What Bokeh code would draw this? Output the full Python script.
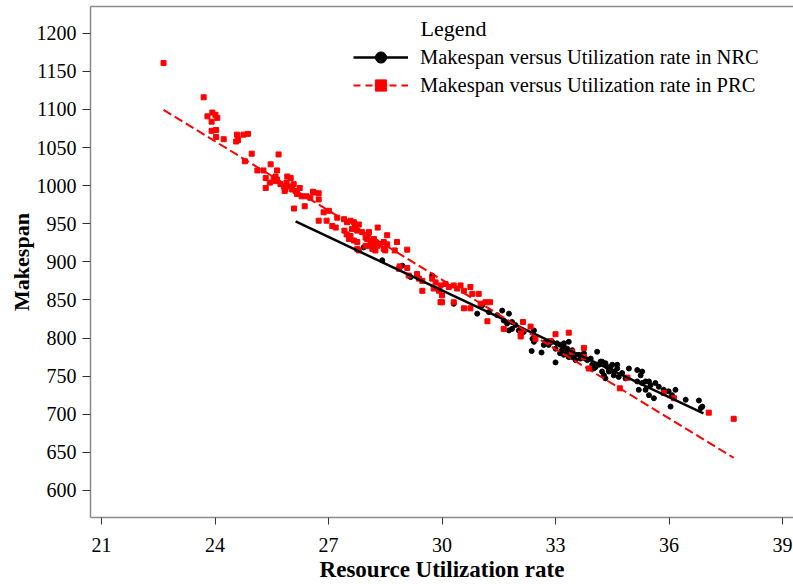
from bokeh.plotting import figure
from bokeh.models import Range1d, LinearAxis, Legend, LegendItem, Label, FixedTicker
from bokeh.embed import file_html
from bokeh.resources import INLINE

# ---------------- data ----------------
x_ticks = [21, 24, 27, 30, 33, 36, 39]
y_ticks = [600, 650, 700, 750, 800, 850, 900, 950, 1000, 1050, 1100, 1150, 1200]

prc_x = [22.64, 23.70, 23.93, 23.80, 24.01, 24.06, 23.91, 23.91, 24.03, 24.03,
         24.23, 24.58, 24.61, 24.56, 24.75, 24.87, 24.97, 24.79, 25.68, 25.47,
         25.12, 25.28, 25.64, 25.34, 25.45, 25.34, 25.55, 25.60, 25.64, 25.91,
         26.00, 25.89, 25.82, 25.95, 26.08, 26.04, 25.84, 26.13, 26.24, 26.17,
         26.29, 26.42, 26.52, 26.59, 26.74, 26.74, 26.09, 26.37, 26.87, 27.23,
         25.60, 25.73, 25.86, 26.61, 27.01, 26.74, 26.95, 27.10, 27.19, 27.41,
         27.49, 27.58, 27.67, 27.71, 27.80, 27.62, 27.76, 27.42, 27.48, 27.58,
         27.54, 27.67, 27.76, 27.89, 27.98, 28.07, 28.30, 28.02, 28.11, 28.20,
         28.16, 28.24, 28.29, 28.07, 27.98, 28.16, 28.24, 28.37, 28.46, 28.55,
         28.55, 28.46, 28.50, 27.76, 27.80, 28.81, 29.08, 28.75, 28.88, 28.86,
         29.08, 29.12, 29.34, 29.39, 29.48, 29.48, 29.74, 29.83, 29.78, 29.92,
         29.96, 29.96, 30.09, 30.18, 30.31, 30.40, 30.49, 30.58, 30.75, 30.80,
         30.97, 31.02, 31.15, 31.27, 30.00, 30.00, 30.31, 30.58, 30.75, 31.20,
         31.63, 32.14, 32.34, 32.08, 32.08, 32.47, 33.00, 33.35, 32.87, 33.44,
         33.75, 33.75, 33.88, 34.70, 34.90, 35.86, 36.13, 37.05, 37.71]
prc_y = [1161, 1116, 1096, 1091, 1093, 1089, 1084, 1072, 1073, 1064,
         1061, 1067, 1060, 1058, 1067, 1068, 1042, 1032, 1041, 1028,
         1020, 1020, 1020, 1010, 1004, 997, 1010, 1012, 1008, 1012,
         1010, 1004, 999, 999, 1002, 995, 993, 993, 997, 989,
         986, 986, 984, 992, 990, 982, 970, 973, 965, 958,
         1006, 1002, 995, 991, 967, 954, 954, 947, 945, 956,
         952, 954, 952, 947, 949, 943, 941, 941, 936, 934,
         930, 928, 926, 939, 932, 939, 945, 930, 928, 930,
         923, 926, 921, 921, 921, 917, 915, 923, 926, 923,
         935, 917, 915, 917, 915, 926, 916, 915, 894, 891,
         892, 882, 884, 878, 875, 862, 878, 873, 865, 862,
         847, 869, 871, 867, 869, 865, 869, 862, 867, 858,
         858, 845, 847, 847, 856, 847, 847, 839, 839, 822,
         812, 821, 815, 806, 802, 799, 805, 807, 796, 782,
         787, 775, 760, 734, 748, 728, 721, 702, 694]

nrc_x = [27.93, 28.42, 28.95, 29.17, 29.74, 30.31, 30.93, 31.06, 31.24, 31.46,
         31.59, 31.77, 31.63, 31.72, 31.85, 31.94, 31.77, 31.85, 32.03, 32.16,
         32.43, 32.39, 32.43, 32.37, 32.63, 32.69, 32.74, 32.82, 32.91, 33.00,
         33.04, 33.13, 33.17, 33.22, 33.31, 33.35, 33.12, 33.00, 33.44, 33.53,
         33.62, 33.66, 33.75, 33.84, 33.93, 34.10, 33.97, 34.01, 34.15, 34.23,
         34.32, 34.37, 34.41, 34.50, 34.54, 34.28, 34.32, 34.63, 34.67, 33.22,
         33.35, 33.31, 33.22, 33.44, 33.53, 33.79, 34.06, 34.19, 34.45, 34.63,
         34.41, 34.23, 34.54, 34.76, 34.94, 34.85, 35.16, 35.29, 35.25, 35.16,
         35.29, 35.38, 35.47, 35.51, 35.64, 35.73, 35.38, 35.20, 35.47, 35.60,
         35.86, 35.99, 36.17, 36.08, 36.04, 36.44, 36.79, 36.88, 36.84]
nrc_y = [919, 902, 895, 880, 882, 845, 832, 843, 834, 830,
         836, 832, 823, 819, 821, 817, 810, 812, 810, 808,
         810, 799, 795, 783, 781, 791, 795, 791, 795, 786,
         793, 791, 784, 789, 782, 775, 780, 768, 775, 771,
         778, 773, 780, 771, 773, 782, 765, 760, 765, 769,
         767, 762, 758, 765, 756, 751, 747, 760, 749, 793,
         795, 786, 778, 784, 778, 773, 762, 769, 762, 765,
         756, 756, 751, 754, 760, 747, 758, 756, 751, 743,
         741, 743, 743, 738, 741, 736, 732, 732, 725, 721,
         732, 730, 732, 725, 710, 719, 718, 710, 708]

nrc_fit_x = [26.13, 36.91]
nrc_fit_y = [953, 701]
prc_fit_x = [22.64, 37.71]
prc_fit_y = [1099.5, 642.7]

labels = ["Makespan versus Utilization rate in NRC",
          "Makespan versus Utilization rate in PRC"]

# ---------------- figure ----------------
FONT = "Liberation Serif"
AXIS_GREY = "#8a8a8a"
NAN = float("nan")

p = figure(width=793, height=584,
           x_range=Range1d(20.709, 39.29), y_range=Range1d(564.4, 1235.2),
           output_backend="svg", toolbar_location=None,
           min_border_left=90, min_border_right=0, min_border_top=6,
           min_border_bottom=64)
p.outline_line_color = None
p.xgrid.visible = False
p.ygrid.visible = False
p.background_fill_color = "white"
p.border_fill_color = "white"

p.xaxis.ticker = FixedTicker(ticks=x_ticks)
p.yaxis.ticker = FixedTicker(ticks=y_ticks)
for ax in (p.xaxis[0], p.yaxis[0]):
    ax.axis_line_color = AXIS_GREY
    ax.axis_line_width = 1.5
    ax.major_tick_line_color = "#333333"
    ax.major_tick_line_width = 1
    ax.major_tick_in = 0
    ax.minor_tick_line_color = None
    ax.major_label_text_font = FONT
    ax.major_label_text_font_size = "20px"
    ax.major_label_text_color = "black"
    ax.axis_label_text_font = FONT
    ax.axis_label_text_font_style = "bold"
    ax.axis_label_text_color = "black"
p.xaxis[0].axis_label_text_font_size = "23px"
p.yaxis[0].axis_label_text_font_size = "22px"
p.xaxis[0].major_tick_out = 7
p.yaxis[0].major_tick_out = 8
p.xaxis[0].major_label_standoff = 13
p.yaxis[0].major_label_standoff = 6
p.xaxis[0].axis_label = "Resource Utilization rate"
p.yaxis[0].axis_label = "Makespan"
p.xaxis[0].axis_label_standoff = 2
p.yaxis[0].axis_label_standoff = 0

top = LinearAxis(ticker=FixedTicker(ticks=[]),
                 axis_line_color=AXIS_GREY, axis_line_width=1.5,
                 major_tick_line_color=None, minor_tick_line_color=None,
                 major_tick_out=0, major_tick_in=0, minor_tick_out=0, minor_tick_in=0,
                 major_label_standoff=0)
p.add_layout(top, "above")

# ---------------- marks ----------------
p.scatter(nrc_x, nrc_y, marker="circle", size=5, color="black")
p.scatter(prc_x, prc_y, marker="square", size=5, color="red")
p.line(nrc_fit_x, nrc_fit_y, line_color="black", line_width=2.5)
p.line(prc_fit_x, prc_fit_y, line_color="red", line_width=2, line_dash="9 4")

# legend proxies (single NaN point, not drawn in the plot)
lg1 = p.line([NAN], [NAN], line_color="black", line_width=2.5)
lg1p = p.scatter([NAN], [NAN], marker="circle", size=9, color="black")
lg2 = p.line([NAN], [NAN], line_color="red", line_width=2, line_dash="7 5")
lg2p = p.scatter([NAN], [NAN], marker="square", size=9, color="red")

legend = Legend(items=[LegendItem(label=labels[0], renderers=[lg1, lg1p]),
                       LegendItem(label=labels[1], renderers=[lg2, lg2p])],
                location=(263, 418), orientation="vertical",
                border_line_color=None, background_fill_alpha=0,
                padding=0, margin=0, spacing=0,
                glyph_width=55, glyph_height=28, label_height=28,
                label_standoff=12, label_text_font=FONT,
                label_text_font_size="20.5px", label_text_color="black")
p.add_layout(legend)

p.add_layout(Label(x=29.43, y=1206.5, text="Legend", text_font=FONT,
                   text_font_size="22px", text_baseline="middle",
                   text_color="black"))

open("out.html", "w").write(file_html(p, INLINE))
